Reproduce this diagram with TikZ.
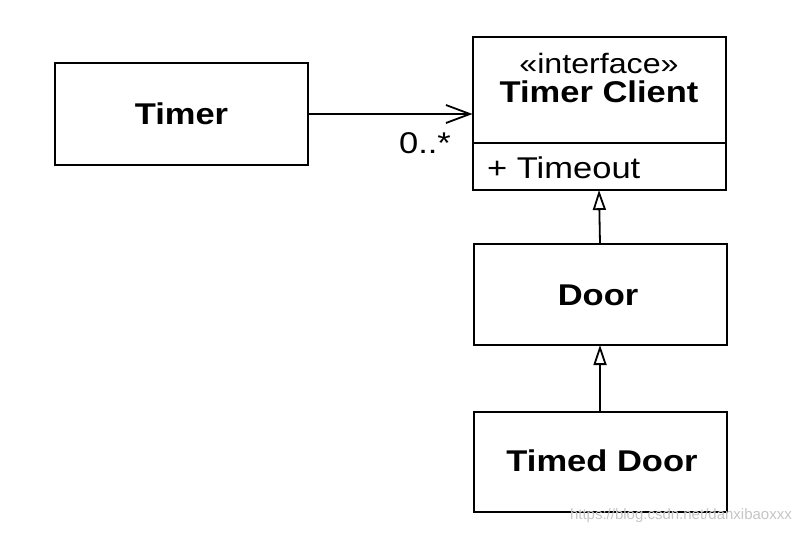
\documentclass[tikz,border=0pt]{standalone}
\usepackage{fontspec}
\setmainfont{Liberation Sans}
\usetikzlibrary{arrows.meta}
\newcommand{\widetxt}[1]{\scalebox{1.15}[1]{#1}}
\begin{document}
\begin{tikzpicture}[x=1pt,y=-1pt,
  cls/.style={draw, line width=2pt, minimum width=253pt, inner sep=0pt, outer sep=0pt},
  bigb/.style={font=\fontsize{30}{34}\selectfont\bfseries, inner sep=0pt},
  assoc/.style={line width=1.8pt, -{Straight Barb[length=24pt,width=18pt,line width=1.8pt]}},
  inherit/.style={line width=1.8pt, -{Triangle[open,length=20pt,width=13pt,line width=1.8pt]}},
  lbl/.style={font=\fontsize{30}{34}\selectfont, inner sep=0pt}
]
\useasboundingbox[fill=white] (0,0) rectangle (800,533);
% boxes
\node[cls, minimum height=106pt] (tctop) at (599,90) {};
\node[cls, minimum height=47pt, anchor=north] (tcbot) at (tctop.south) {};
\node[cls, minimum height=102pt] (timer) at (181.5,114) {};
\node[cls, minimum height=101pt] (door) at (600,294.5) {};
\node[cls, minimum height=100pt] (tdoor) at (600,462) {};
% texts
\node[bigb] (timert) at (timer.center) {\widetxt{Timer}};
\node[lbl, font=\fontsize{28}{34}\selectfont] (stereo) at (599,63) {\widetxt{«interface»}};
\node[bigb] (tcname) at (599,92) {\widetxt{Timer Client}};
\node[lbl, anchor=west] (op) at (487,168) {\widetxt{+ Timeout}};
\node[bigb] (doort) at (598,295) {\widetxt{Door}};
\node[bigb] (tdoort) at (602,461) {\widetxt{Timed Door}};
% connectors
\draw[assoc] (timer.east) -- (tctop.west |- timer.east);
\node[lbl] (mult) at (425,143) {\widetxt{0..*}};
\draw[inherit] (door.north) -- (tcbot.south);
\draw[inherit] (tdoor.north) -- (door.south);
\node[font=\fontsize{15}{18}\selectfont, text=gray!45, anchor=east, inner sep=0pt] (wm) at (792,516) {https://blog.csdn.net/danxibaoxxx};
\end{tikzpicture}
\end{document}
